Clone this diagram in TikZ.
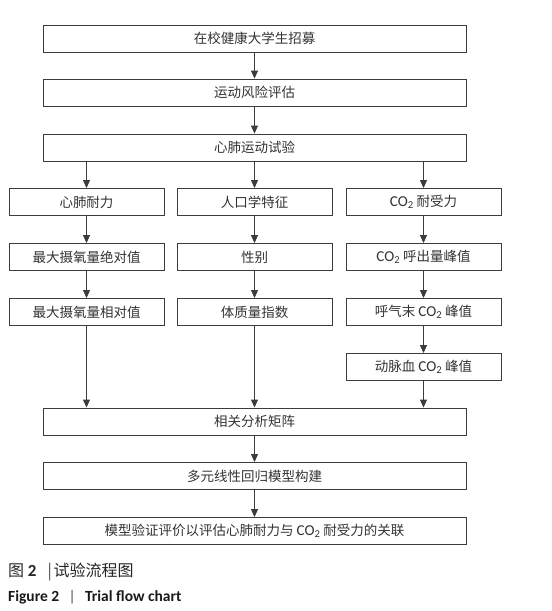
\documentclass[tikz,border=0pt]{standalone}
\usepackage{fontspec}
\setmainfont{Noto Sans CJK SC}
\newfontfamily\lat[Scale=1.12]{Carlito}
\newfontfamily\latc{Carlito}
\usetikzlibrary{arrows.meta}
\newcommand\COt{{\lat CO\textsubscript{2}}}
\definecolor{ln}{HTML}{3C3C3C}
\definecolor{tx}{HTML}{333333}
\tikzset{
  box/.style={draw=ln, line width=0.9pt, minimum height=27pt, inner sep=0pt, text=tx, font=\fontsize{13.5}{16}\selectfont},
  wide/.style={box, minimum width=423pt},
  col/.style={box, minimum width=155pt},
  arr/.style={draw=ln, line width=0.9pt, -{Triangle[length=8pt,width=7pt]}}
}
\begin{document}
\begin{tikzpicture}[x=1pt,y=-1pt]
\useasboundingbox (0,0) rectangle (552,611);
\node[wide] (n1) at (254.5,38.5) {在校健康大学生招募};
\node[wide] (n2) at (254.5,92.5) {运动风险评估};
\node[wide] (n3) at (254.5,147.5) {心肺运动试验};
\node[col] (L1) at (86.5,202) {心肺耐力};
\node[col] (M1) at (254.5,202) {人口学特征};
\node[col] (R1) at (423.5,202) {\COt\ 耐受力};
\node[col] (L2) at (86.5,257) {最大摄氧量绝对值};
\node[col] (M2) at (254.5,257) {性别};
\node[col] (R2) at (423.5,257) {\COt\ 呼出量峰值};
\node[col] (L3) at (86.5,312) {最大摄氧量相对值};
\node[col] (M3) at (254.5,312) {体质量指数};
\node[col] (R3) at (423.5,312) {呼气末 \COt\ 峰值};
\node[col] (R4) at (423.5,367) {动脉血 \COt\ 峰值};
\node[wide] (n4) at (254.5,421.5) {相关分析矩阵};
\node[wide] (n5) at (254.5,476) {多元线性回归模型构建};
\node[wide] (n6) at (254.5,531) {模型验证评价以评估心肺耐力与 \COt\ 耐受力的关联};
\draw[arr] (n1) -- (n2);
\draw[arr] (n2) -- (n3);
\draw[arr] (L1 |- n3.south) -- (L1.north);
\draw[arr] (n3.south) -- (M1.north);
\draw[arr] (R1 |- n3.south) -- (R1.north);
\draw[arr] (L1) -- (L2);
\draw[arr] (L2) -- (L3);
\draw[arr] (M1) -- (M2);
\draw[arr] (M2) -- (M3);
\draw[arr] (R1) -- (R2);
\draw[arr] (R2) -- (R3);
\draw[arr] (R3) -- (R4);
\draw[arr] (L3.south) -- (L3 |- n4.north);
\draw[arr] (M3.south) -- (n4.north);
\draw[arr] (R4.south) -- (R4 |- n4.north);
\draw[arr] (n4) -- (n5);
\draw[arr] (n5) -- (n6);
\node[anchor=west, inner sep=0pt, text=black!85, font=\fontsize{16}{19}\selectfont] (c1) at (8,572) {图 {\latc\bfseries\fontsize{17}{19}\selectfont 2}\hspace{0.7em}{\color{black!70}|}\hspace{0.1em}试验流程图};
\node[anchor=west, inner sep=0pt, text=black!90, font=\latc\bfseries\fontsize{15.5}{18}\selectfont] (c2) at (8,597) {Figure 2\hspace{0.6em}{\mdseries\color{black!70}|}\hspace{0.6em}Trial flow chart};
\end{tikzpicture}
\end{document}
